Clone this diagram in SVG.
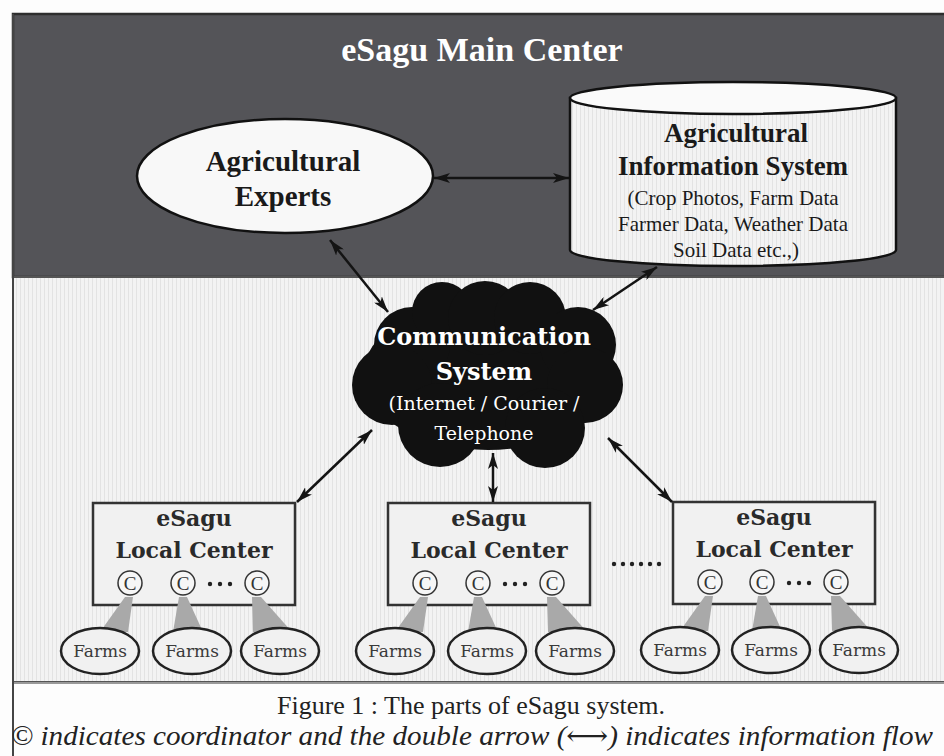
<svg xmlns="http://www.w3.org/2000/svg" width="944" height="756" viewBox="0 0 944 756">
<style>
.lbl{font-family:"Liberation Serif","DejaVu Serif",serif;font-weight:bold;text-anchor:middle;fill:#1a1a1a}
.sub{font-family:"Liberation Serif","DejaVu Serif",serif;text-anchor:middle;fill:#1a1a1a}
.wl{font-family:"DejaVu Serif","Liberation Serif",serif;font-weight:bold;text-anchor:middle;fill:#fff}
.ws{font-family:"DejaVu Serif","Liberation Serif",serif;text-anchor:middle;fill:#fff}
.loc{font-family:"DejaVu Serif","Liberation Serif",serif;font-weight:bold;text-anchor:middle;fill:#2a2a2a;font-size:22px}
.farm{font-family:"DejaVu Serif","Liberation Serif",serif;text-anchor:middle;fill:#3a3a3a;font-size:17px}
.box{fill:#f1f1f1;stroke:#333;stroke-width:2.5}
.fe{fill:#f1f1f1;stroke:#222;stroke-width:2.5}
.co{fill:#f6f6f6;stroke:#333;stroke-width:1.5}
.ct{font-family:"Liberation Serif","DejaVu Serif",serif;text-anchor:middle;fill:#333;font-size:19px}
.wedge{fill:#a9a9a9}
.dots{fill:#222}
.conn{stroke:#141414;stroke-width:2.5;fill:none;marker-start:url(#ah);marker-end:url(#ah)}
.cap{font-family:"Liberation Serif","DejaVu Serif",serif;fill:#222}
</style>
<defs>
<pattern id="stripes" width="4" height="4" patternUnits="userSpaceOnUse">
<rect width="4" height="4" fill="#f3f3f3"/>
<rect width="1" height="4" fill="#e3e3e3"/>
</pattern>
<marker id="ah" viewBox="0 0 16 10" refX="16" refY="5" markerWidth="16" markerHeight="10" markerUnits="userSpaceOnUse" orient="auto-start-reverse">
<path d="M0,0 L16,5 L0,10 L4,5 z" fill="#141414"/>
</marker>
</defs>

<rect x="0" y="0" width="944" height="756" fill="#fdfdfd"/>
<g id="main-center">
<rect x="13" y="14" width="945" height="263" fill="#545458" stroke="#2e2e2e" stroke-width="2.5"/>
<text x="482" y="61" font-family="Liberation Serif, DejaVu Serif, serif" font-weight="bold" font-size="34" fill="#fff" text-anchor="middle">eSagu Main Center</text>
</g>
<g id="field">
<rect x="13" y="277" width="945" height="405" fill="url(#stripes)" stroke="#555" stroke-width="2"/>
<line x1="13" y1="683" x2="944" y2="683" stroke="#999" stroke-width="2"/>
<line x1="13" y1="14" x2="13" y2="756" stroke="#444" stroke-width="2"/>
</g>

<g id="experts">
<ellipse cx="285" cy="176" rx="148" ry="57" fill="#f8f8f8" stroke="#111" stroke-width="2.5"/>
<text class="lbl" x="283" y="171" font-size="29">Agricultural</text>
<text class="lbl" x="283" y="206" font-size="29">Experts</text>
</g>

<g id="ais">
<path d="M570,98 L570,250 A163,16 0 0 0 896,250 L896,98 Z" fill="url(#stripes)" stroke="#111" stroke-width="2.5"/>
<ellipse cx="733" cy="98" rx="163" ry="16" fill="#fafafa" stroke="#111" stroke-width="2.5"/>
<text class="lbl" x="736" y="142" font-size="27">Agricultural</text>
<text class="lbl" x="733" y="175" font-size="27">Information System</text>
<text class="sub" x="733" y="205" font-size="21">(Crop Photos, Farm Data</text>
<text class="sub" x="733" y="231" font-size="21">Farmer Data, Weather Data</text>
<text class="sub" x="736" y="257" font-size="21">Soil Data etc.,)</text>
</g>

<g id="communication">
<g fill="#111">
<ellipse cx="488" cy="375" rx="125" ry="75"/>
<circle cx="412" cy="345" r="38"/>
<circle cx="442" cy="312" r="30"/>
<circle cx="485" cy="318" r="37"/>
<circle cx="530" cy="318" r="36"/>
<circle cx="578" cy="345" r="38"/>
<circle cx="392" cy="385" r="40"/>
<circle cx="585" cy="385" r="38"/>
<circle cx="440" cy="425" r="42"/>
<circle cx="545" cy="428" r="40"/>
</g>
<text class="wl" x="484" y="345" font-size="24">Communication</text>
<text class="wl" x="484" y="380" font-size="24">System</text>
<text class="ws" x="484" y="410" font-size="19">(Internet / Courier /</text>
<text class="ws" x="484" y="440" font-size="19">Telephone</text>
</g>

<g id="local-1">
<rect class="box" x="93" y="503" width="202" height="102"/>
<text class="loc" x="194" y="526">eSagu</text>
<text class="loc" x="194" y="558">Local Center</text>
<polygon class="wedge" points="125,597 133,597 128,632 100,632"/>
<polygon class="wedge" points="179,597 187,597 203,632 173,632"/>
<polygon class="wedge" points="252,597 261,597 292,632 253,632"/>
<circle class="co" cx="130" cy="583" r="12"/><text class="ct" x="130" y="590">C</text>
<circle class="co" cx="183" cy="583" r="12"/><text class="ct" x="183" y="590">C</text>
<circle class="dots" cx="210" cy="584" r="2.2"/><circle class="dots" cx="220" cy="584" r="2.2"/><circle class="dots" cx="230" cy="584" r="2.2"/>
<circle class="co" cx="257" cy="583" r="12"/><text class="ct" x="257" y="590">C</text>
</g>
<g id="farms-1">
<ellipse class="fe" cx="100" cy="651" rx="39" ry="23"/><text class="farm" x="100" y="657">Farms</text>
<ellipse class="fe" cx="192" cy="651" rx="39" ry="23"/><text class="farm" x="192" y="657">Farms</text>
<ellipse class="fe" cx="280" cy="651" rx="39" ry="23"/><text class="farm" x="280" y="657">Farms</text>
</g>

<g id="local-2">
<rect class="box" x="388" y="503" width="202" height="102"/>
<text class="loc" x="489" y="526">eSagu</text>
<text class="loc" x="489" y="558">Local Center</text>
<polygon class="wedge" points="420,597 428,597 423,632 395,632"/>
<polygon class="wedge" points="474,597 482,597 498,632 468,632"/>
<polygon class="wedge" points="547,597 556,597 587,632 548,632"/>
<circle class="co" cx="425" cy="583" r="12"/><text class="ct" x="425" y="590">C</text>
<circle class="co" cx="478" cy="583" r="12"/><text class="ct" x="478" y="590">C</text>
<circle class="dots" cx="505" cy="584" r="2.2"/><circle class="dots" cx="515" cy="584" r="2.2"/><circle class="dots" cx="525" cy="584" r="2.2"/>
<circle class="co" cx="552" cy="583" r="12"/><text class="ct" x="552" y="590">C</text>
</g>
<g id="farms-2">
<ellipse class="fe" cx="395" cy="651" rx="39" ry="23"/><text class="farm" x="395" y="657">Farms</text>
<ellipse class="fe" cx="487" cy="651" rx="39" ry="23"/><text class="farm" x="487" y="657">Farms</text>
<ellipse class="fe" cx="575" cy="651" rx="39" ry="23"/><text class="farm" x="575" y="657">Farms</text>
</g>

<g id="more">
<circle class="dots" cx="614" cy="564" r="2.2"/><circle class="dots" cx="623" cy="564" r="2.2"/><circle class="dots" cx="632" cy="564" r="2.2"/><circle class="dots" cx="641" cy="564" r="2.2"/><circle class="dots" cx="650" cy="564" r="2.2"/><circle class="dots" cx="659" cy="564" r="2.2"/>
</g>

<g id="local-3">
<rect class="box" x="673" y="502" width="202" height="102"/>
<text class="loc" x="774" y="525">eSagu</text>
<text class="loc" x="774" y="557">Local Center</text>
<polygon class="wedge" points="705,596 713,596 708,631 680,631"/>
<polygon class="wedge" points="758,596 766,596 782,631 752,631"/>
<polygon class="wedge" points="831,596 840,596 871,631 832,631"/>
<circle class="co" cx="710" cy="582" r="12"/><text class="ct" x="710" y="589">C</text>
<circle class="co" cx="762" cy="582" r="12"/><text class="ct" x="762" y="589">C</text>
<circle class="dots" cx="789" cy="583" r="2.2"/><circle class="dots" cx="799" cy="583" r="2.2"/><circle class="dots" cx="809" cy="583" r="2.2"/>
<circle class="co" cx="836" cy="582" r="12"/><text class="ct" x="836" y="589">C</text>
</g>
<g id="farms-3">
<ellipse class="fe" cx="680" cy="650" rx="39" ry="23"/><text class="farm" x="680" y="656">Farms</text>
<ellipse class="fe" cx="771" cy="650" rx="39" ry="23"/><text class="farm" x="771" y="656">Farms</text>
<ellipse class="fe" cx="859" cy="650" rx="39" ry="23"/><text class="farm" x="859" y="656">Farms</text>
</g>

<g id="connectors">
<line class="conn" x1="434" y1="178" x2="569" y2="178"/>
<line class="conn" x1="330" y1="240" x2="388" y2="312"/>
<line class="conn" x1="657" y1="267" x2="593" y2="310"/>
<line class="conn" x1="372" y1="430" x2="297" y2="502"/>
<line class="conn" x1="493" y1="453" x2="493" y2="502"/>
<line class="conn" x1="608" y1="438" x2="672" y2="502"/>
</g>

<g id="caption">
<text class="cap" x="471" y="714" text-anchor="middle" font-size="26">Figure 1 : The parts of eSagu system.</text>
<text class="cap" x="472" y="745" text-anchor="middle" font-size="27" font-style="italic" textLength="922" lengthAdjust="spacingAndGlyphs">© indicates coordinator and the double arrow (⟷) indicates information flow</text>
</g>
</svg>
